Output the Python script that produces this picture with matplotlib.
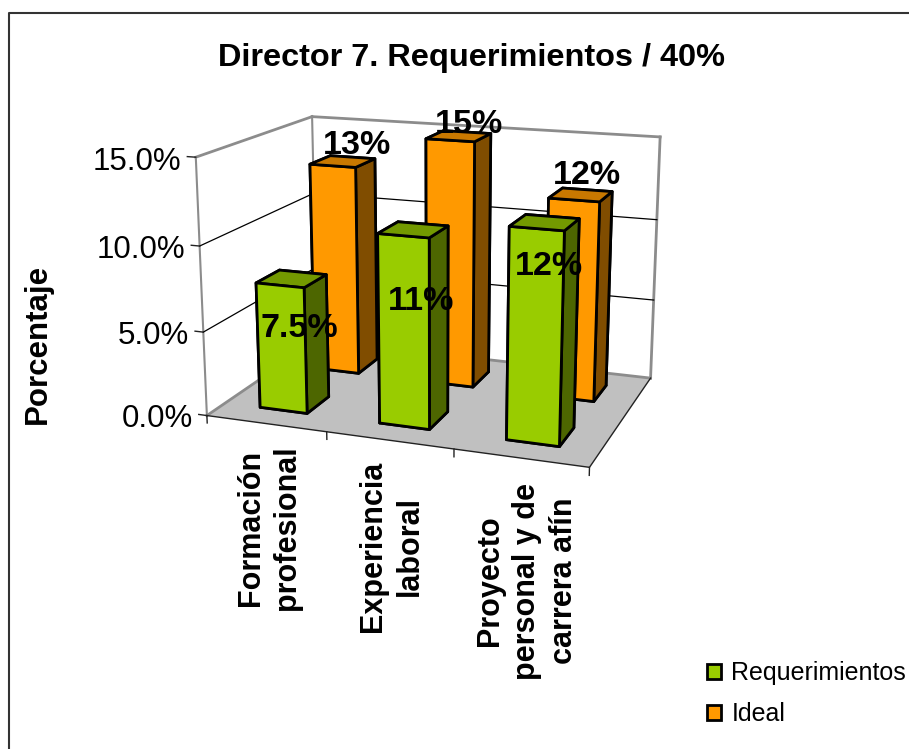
import matplotlib
matplotlib.use("Agg")
import matplotlib.pyplot as plt
import numpy as np
from matplotlib.lines import Line2D
from matplotlib.patches import Patch

plt.rcParams['font.family'] = ['Liberation Sans', 'DejaVu Sans']

W, H = 909, 749

categories = ["Formación\nprofesional", "Experiencia\nlaboral", "Proyecto\npersonal y de\ncarrera afín"]
requerimientos = [7.5, 11, 12]
ideal = [13, 15, 12]
req_labels = ["7.5%", "11%", "12%"]
ideal_labels = ["13%", "15%", "12%"]
z_ticks = [0, 5, 10, 15]
z_tick_labels = ["0.0%", "5.0%", "10.0%", "15.0%"]


def fx(px):
    return px / W


def fy(py):
    return 1 - py / H


fig = plt.figure(figsize=(W / 100, H / 100), dpi=100)
# chart area border, only left and top are inside the picture
fig.add_artist(Line2D([fx(9), fx(9), 1], [0, fy(13), fy(13)], color="#333333", lw=1.5, transform=fig.transFigure))

S = 500
ax = fig.add_axes([fx(430 - S / 2), fy(281 + S / 2), S / W, S / H], projection="3d", computed_zorder=False)
ax.set_proj_type("persp", focal_length=0.545)
ax.view_init(elev=15, azim=-70)
ax.set_xlim(0, 3, view_margin=0)
ax.set_ylim(0, 1, view_margin=0)
ax.set_zlim(0, 15, view_margin=0)
ax.set_box_aspect((393, 265, 262), zoom=1.036)
ax.set_axis_off()
ax.patch.set_alpha(0)

# floor
ax.plot_surface(np.array([[0, 3], [0, 3]]), np.array([[0, 0], [1, 1]]), np.zeros((2, 2)),
                color="#C0C0C0", shade=False, zorder=1)

grey = "#8C8C8C"
# walls outline
ax.plot([0, 0], [0, 1], [15, 15], color=grey, lw=2, zorder=2)
ax.plot([0, 3], [1, 1], [15, 15], color=grey, lw=2, zorder=2)
ax.plot([0, 0], [0, 0], [0, 15], color=grey, lw=1.5, zorder=2)
ax.plot([0, 0], [1, 1], [0, 15], color=grey, lw=1.5, zorder=2)
ax.plot([3, 3], [1, 1], [0, 15], color=grey, lw=2, zorder=2)
ax.plot([0, 0], [0, 1], [0, 0], color=grey, lw=2, zorder=2)
ax.plot([0, 3], [1, 1], [0, 0], color=grey, lw=2, zorder=2)
# gridlines
for v in z_ticks[1:-1]:
    ax.plot([0, 0, 3], [0, 1, 1], [v, v, v], color="black", lw=0.9, zorder=2)
# floor front edges and ticks
ax.plot([0, 3, 3], [0, 0, 1], [0, 0, 0], color="#222222", lw=1, zorder=2)
for i in range(4):
    ax.plot([i, i], [0, 0], [0, -0.45], color="#222222", lw=1, zorder=2)
for v, lab in zip(z_ticks, z_tick_labels):
    ax.plot([0, -0.07], [0, 0], [v, v], color="#222222", lw=1, zorder=2)
    ax.text(-0.12, 0, v - 0.3, lab, ha="right", va="center", fontsize=22.5, color="black", zorder=20)

# bars, back row first
bar_w = 0.4
bar_d = 0.2
colors_ideal = ["#FF9900", "#C87800", "#FF9900", "#FF9900", "#FF9900", "#804D00"]
colors_req = ["#99CC00", "#739900", "#99CC00", "#99CC00", "#99CC00", "#4D6600"]
z = 3
for i, v in enumerate(ideal):
    ax.bar3d(i + 0.3, 0.65, 0, bar_w, bar_d, v, color=colors_ideal, edgecolor="black", linewidth=2,
             shade=False, zorder=z)
    z += 1
for i, v in enumerate(requerimientos):
    ax.bar3d(i + 0.3, 0.15, 0, bar_w, bar_d, v, color=colors_req, edgecolor="black", linewidth=2,
             shade=False, zorder=z)
    z += 1

# data labels
ideal_dx = [0.625, 0.585, 0.55]
ideal_dz = [0.08, -0.2, 0.25]
for i, (v, lab) in enumerate(zip(ideal, ideal_labels)):
    ax.text(i + ideal_dx[i], 0.75, v + ideal_dz[i], lab, ha="center", va="bottom", fontsize=24.5, fontweight="bold",
            zorder=21)
req_dx = [0.555, 0.56, 0.54]
req_dz = [-2.95, -4.1, -2.4]
for i, (v, lab) in enumerate(zip(requerimientos, req_labels)):
    ax.text(i + req_dx[i], 0.25, v + req_dz[i], lab, ha="center", va="center", fontsize=24.5, fontweight="bold",
            zorder=21)

# texts in figure space
fig.text(fx(472), fy(58), "Director 7. Requerimientos / 40%", ha="center", va="center", fontsize=23.4,
         fontweight="bold")
fig.text(fx(38), fy(344), "Porcentaje", rotation=90, ha="center", va="center", fontsize=22.5, fontweight="bold")
cat_x = [269, 391, 527]
cat_mid = [528, 546, 581]
for c, x, t in zip(categories, cat_x, cat_mid):
    fig.text(fx(x), fy(t), c, rotation=90, ha="center", va="center", multialignment="center", fontsize=22,
             fontweight="bold", linespacing=1.3)

handles = [Patch(facecolor="#99CC00", edgecolor="black", lw=2), Patch(facecolor="#FF9900", edgecolor="black", lw=2)]
fig.legend(handles, ["Requerimientos", "Ideal"], loc="upper left", bbox_to_anchor=(fx(707), fy(661)), frameon=False,
           fontsize=18, handlelength=0.55, handleheight=0.55, handletextpad=0.42, labelspacing=0.68, borderpad=0,
           borderaxespad=0)

plt.savefig("out.png", dpi=100)
